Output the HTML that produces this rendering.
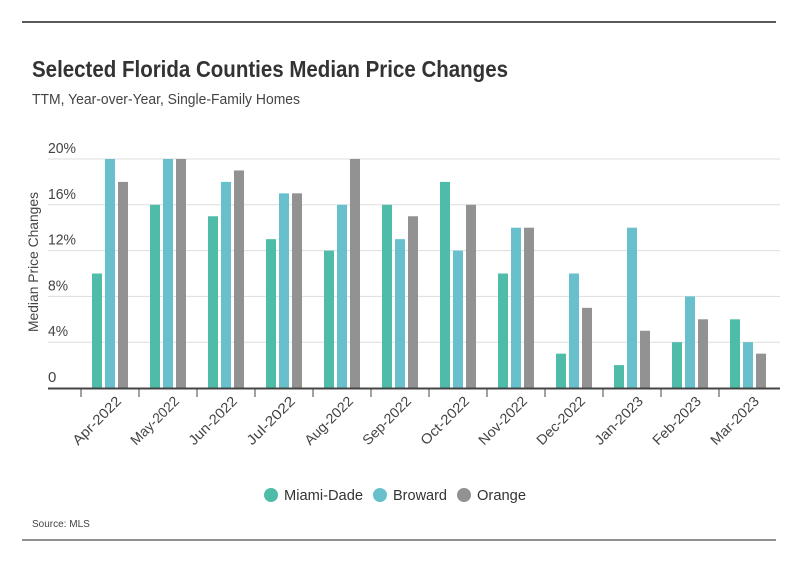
<!DOCTYPE html>
<html><head><meta charset="utf-8"><style>
body{margin:0;background:#fff;font-family:"Liberation Sans",sans-serif;}
.w{position:relative;width:798px;height:575px;overflow:hidden}
</style></head><body><div class="w">
<svg width="798" height="575">
<line x1="22" y1="22" x2="776" y2="22" stroke="#222" stroke-width="1.5"/>
<line x1="22" y1="540" x2="776" y2="540" stroke="#222" stroke-width="1"/>
<text x="32" y="77" font-size="23" font-weight="bold" fill="#333" textLength="476" lengthAdjust="spacingAndGlyphs">Selected Florida Counties Median Price Changes</text>
<text x="32" y="104" font-size="15" fill="#444" textLength="268" lengthAdjust="spacingAndGlyphs">TTM, Year-over-Year, Single-Family Homes</text>
<text transform="translate(38,262) rotate(-90)" text-anchor="middle" font-size="14" fill="#444" textLength="140" lengthAdjust="spacingAndGlyphs">Median Price Changes</text>
<g id="grid"></g><g id="bars"></g><g id="xaxis"></g>
<g font-size="15" fill="#333">
<circle cx="271" cy="495" r="7" fill="#4fbca9"/><text x="284" y="500" textLength="79" lengthAdjust="spacingAndGlyphs">Miami-Dade</text>
<circle cx="380" cy="495" r="7" fill="#67c0cb"/><text x="393" y="500" textLength="54" lengthAdjust="spacingAndGlyphs">Broward</text>
<circle cx="464" cy="495" r="7" fill="#929292"/><text x="477" y="500" textLength="49" lengthAdjust="spacingAndGlyphs">Orange</text>
</g>
<text x="32" y="527" font-size="10" fill="#444">Source:  MLS</text>
</svg></div>
<script>
const categories=["Apr-2022","May-2022","Jun-2022","Jul-2022","Aug-2022","Sep-2022","Oct-2022","Nov-2022","Dec-2022","Jan-2023","Feb-2023","Mar-2023"];
const miami=[10,16,15,13,12,16,18,10,3,2,4,6];
const broward=[20,20,18,17,16,13,12,14,10,14,8,4];
const orange=[18,20,19,17,20,15,16,14,7,5,6,3];
const ticks=[0,4,8,12,16,20];
const ns="http://www.w3.org/2000/svg";
const y=v=>388-v*229/20;
const x=i=>110+58*i;
function mk(t,a,p){const e=document.createElementNS(ns,t);for(const k in a)e.setAttribute(k,a[k]);p.appendChild(e);return e;}
const g=document.getElementById('grid'),b=document.getElementById('bars'),xa=document.getElementById('xaxis');
ticks.forEach(t=>{
 if(t>0){const l=mk('line',{x1:48,x2:780,y1:y(t),y2:y(t),stroke:'#ddd'},g);
 
 }
 const tx=mk('text',{x:48,y:y(t)-6,'font-size':15,fill:'#444'},g);
 tx.textContent=t===0?'0':t+'%';
 if(t>=10)tx.setAttribute('textLength','28');
 else if(t>0)tx.setAttribute('textLength','20');
 tx.setAttribute('lengthAdjust','spacingAndGlyphs');
 
 
});
const series=[[miami,'#4fbca9',-18],[broward,'#67c0cb',-5],[orange,'#929292',8]];
series.forEach(([d,c,o])=>d.forEach((v,i)=>{
 const r=mk('rect',{x:x(i)+o,y:y(v),width:10,height:388-y(v),fill:c},b);
 
 
}));
const ax=mk('line',{x1:48,x2:780,y1:388.5,y2:388.5,stroke:'#444','stroke-width':2},xa);


categories.forEach((c,i)=>{
 const tk=mk('line',{x1:x(i)-29,x2:x(i)-29,y1:389,y2:397,stroke:'#444'},xa);
 
 
 const t=mk('text',{transform:`translate(${x(i)+12},402) rotate(-45)`,'text-anchor':'end','font-size':14,fill:'#444',textLength:62,lengthAdjust:'spacingAndGlyphs'},xa);
 t.textContent=c;
 
 
});
</script></body></html>
